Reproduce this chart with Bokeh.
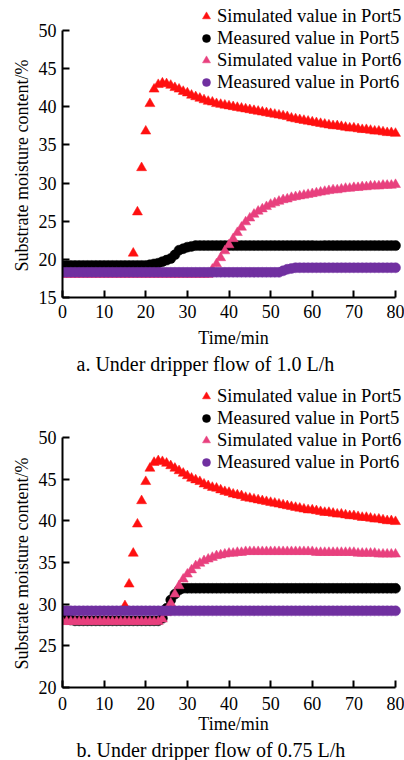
from bokeh.plotting import figure
from bokeh.models import Legend, LegendItem, FixedTicker, Title, Range1d
from bokeh.layouts import column
from bokeh.embed import file_html
from bokeh.resources import INLINE

time_min = [0, 1, 2, 3, 4, 5, 6, 7, 8, 9, 10, 11, 12, 13, 14, 15, 16, 17, 18, 19, 20,
            21, 22, 23, 24, 25, 26, 27, 28, 29, 30, 31, 32, 33, 34, 35, 36, 37, 38, 39, 40,
            41, 42, 43, 44, 45, 46, 47, 48, 49, 50, 51, 52, 53, 54, 55, 56, 57, 58, 59, 60,
            61, 62, 63, 64, 65, 66, 67, 68, 69, 70, 71, 72, 73, 74, 75, 76, 77, 78, 79, 80]

x_ticks = [0, 10, 20, 30, 40, 50, 60, 70, 80]
a_y_ticks = [15, 20, 25, 30, 35, 40, 45, 50]
b_y_ticks = [20, 25, 30, 35, 40, 45, 50]

series_names = ["Simulated value in Port5", "Measured value in Port5",
                "Simulated value in Port6", "Measured value in Port6"]
captions = ["a. Under dripper flow of 1.0 L/h", "b. Under dripper flow of 0.75 L/h"]
x_label = "Time/min"
y_label = "Substrate moisture content/%"

# ---- panel a (1.0 L/h) ----
a_sim5 = [19.0, 19.0, 19.0, 19.0, 19.0, 19.0, 19.0, 19.0, 19.0, 19.0, 19.0, 19.0, 19.0, 19.0, 19.0, 19.0, 19.0,
          20.8, 26.2, 32.0, 36.8, 40.4, 42.3, 42.9, 43.1, 43.0, 42.8, 42.5, 42.3, 42.0, 41.8,
          41.5, 41.3, 41.1, 40.9, 40.7, 40.6, 40.4, 40.3, 40.2, 40.1,
          40.0, 39.9, 39.8, 39.7, 39.6, 39.5, 39.4, 39.3, 39.2, 39.1,
          39.0, 38.9, 38.8, 38.7, 38.5, 38.4, 38.3, 38.2, 38.1, 38.0,
          37.9, 37.8, 37.7, 37.6, 37.5, 37.5, 37.4, 37.3, 37.2, 37.2,
          37.1, 37.0, 37.0, 36.9, 36.8, 36.8, 36.7, 36.6, 36.6, 36.5]
a_meas5 = [19.2, 19.2, 19.2, 19.2, 19.2, 19.2, 19.2, 19.2, 19.2, 19.2, 19.2,
           19.2, 19.2, 19.2, 19.2, 19.2, 19.2, 19.2, 19.2, 19.2, 19.2,
           19.3, 19.4, 19.5, 19.7, 19.9, 20.1, 20.6, 21.2, 21.4, 21.6, 21.7,
           21.8, 21.8, 21.8, 21.8, 21.8, 21.8, 21.8, 21.8, 21.8, 21.8,
           21.8, 21.8, 21.8, 21.8, 21.8, 21.8, 21.8, 21.8, 21.8, 21.8,
           21.8, 21.8, 21.8, 21.8, 21.8, 21.8, 21.8, 21.8, 21.8, 21.8,
           21.8, 21.8, 21.8, 21.8, 21.8, 21.8, 21.8, 21.8, 21.8, 21.8,
           21.8, 21.8, 21.8, 21.8, 21.8, 21.8, 21.8, 21.8, 21.8]
a_sim6 = [18.0, 18.0, 18.0, 18.0, 18.0, 18.0, 18.0, 18.0, 18.0, 18.0, 18.0, 18.0,
          18.0, 18.0, 18.0, 18.0, 18.0, 18.0, 18.0, 18.0, 18.0, 18.0, 18.0, 18.0,
          18.0, 18.0, 18.0, 18.0, 18.0, 18.0, 18.0, 18.0, 18.0, 18.0, 18.0, 18.0,
          18.7, 19.4, 20.2, 21.1, 21.9, 22.7, 23.5, 24.2, 24.9, 25.4,
          25.9, 26.3, 26.6, 26.9, 27.2, 27.4, 27.6, 27.8, 27.9, 28.1,
          28.2, 28.3, 28.4, 28.5, 28.6, 28.7, 28.8, 28.9, 29.0, 29.1,
          29.1, 29.2, 29.3, 29.3, 29.4, 29.4, 29.5, 29.5, 29.6, 29.6,
          29.6, 29.7, 29.7, 29.7, 29.8]
a_meas6 = [18.3, 18.3, 18.3, 18.3, 18.3, 18.3, 18.3, 18.3, 18.3, 18.3, 18.3,
           18.3, 18.3, 18.3, 18.3, 18.3, 18.3, 18.3, 18.3, 18.3, 18.3,
           18.3, 18.3, 18.3, 18.3, 18.3, 18.3, 18.3, 18.3, 18.3, 18.3,
           18.3, 18.3, 18.3, 18.3, 18.3, 18.3, 18.3, 18.3, 18.3, 18.3,
           18.3, 18.3, 18.3, 18.3, 18.3, 18.3, 18.3, 18.3, 18.3, 18.3,
           18.3, 18.3, 18.5, 18.7, 18.8,
           18.9, 18.9, 18.9, 18.9, 18.9, 18.9, 18.9, 18.9, 18.9, 18.9,
           18.9, 18.9, 18.9, 18.9, 18.9, 18.9, 18.9, 18.9, 18.9, 18.9,
           18.9, 18.9, 18.9, 18.9, 18.9]

# ---- panel b (0.75 L/h) ----
b_sim5 = [28.0, 28.0, 28.0, 28.0, 28.0, 28.0, 28.0, 28.0, 28.0, 28.0, 28.0, 28.0, 28.0, 28.0, 28.0,
          29.8, 32.4, 36.1, 39.6, 42.4, 44.7, 46.3, 47.0, 47.2, 47.1, 46.9, 46.6, 46.3, 46.0, 45.7, 45.4,
          45.1, 44.9, 44.7, 44.4, 44.2, 44.0, 43.9, 43.7, 43.5, 43.4,
          43.2, 43.1, 43.0, 42.8, 42.7, 42.6, 42.5, 42.4, 42.3, 42.2,
          42.1, 42.0, 41.9, 41.8, 41.7, 41.6, 41.5, 41.4, 41.3, 41.3,
          41.2, 41.1, 41.0, 41.0, 40.9, 40.8, 40.8, 40.7, 40.6, 40.6,
          40.5, 40.4, 40.4, 40.3, 40.2, 40.2, 40.1, 40.0, 40.0, 39.9]
b_meas5 = [28.3, 28.2, 28.1,
           28.0, 28.0, 28.0, 28.0, 28.0, 28.0, 28.0, 28.0, 28.0, 28.0, 28.0,
           28.0, 28.0, 28.0, 28.0, 28.0, 28.0, 28.0, 28.0, 28.0, 28.0,
           28.3, 29.5, 30.5, 31.2, 31.7,
           31.9, 31.9, 31.9, 31.9, 31.9, 31.9, 31.9, 31.9, 31.9, 31.9,
           31.9, 31.9, 31.9, 31.9, 31.9, 31.9, 31.9, 31.9, 31.9, 31.9,
           31.9, 31.9, 31.9, 31.9, 31.9, 31.9, 31.9, 31.9, 31.9, 31.9,
           31.9, 31.9, 31.9, 31.9, 31.9, 31.9, 31.9, 31.9, 31.9, 31.9,
           31.9, 31.9, 31.9, 31.9, 31.9, 31.9, 31.9, 31.9, 31.9, 31.9,
           31.9, 31.9]
b_sim6 = [27.9, 27.9, 27.9, 27.9, 27.9, 27.9, 27.9, 27.9, 27.9, 27.9, 27.9, 27.9,
          27.9, 27.9, 27.9, 27.9, 27.9, 27.9, 27.9, 27.9, 27.9, 27.9, 27.9, 27.9,
          28.2, 29.0, 30.1, 31.2, 32.2, 33.0, 33.6, 34.1, 34.6, 34.9,
          35.2, 35.4, 35.6, 35.8, 35.9, 36.0, 36.1, 36.1, 36.2, 36.2,
          36.3, 36.3, 36.3, 36.3, 36.3, 36.3, 36.3, 36.3, 36.3, 36.3,
          36.3, 36.3, 36.3, 36.3, 36.3, 36.3, 36.3,
          36.2, 36.2, 36.2, 36.2, 36.2, 36.2, 36.2, 36.2, 36.2, 36.2,
          36.1, 36.1, 36.1, 36.1, 36.1,
          36.0, 36.0, 36.0, 36.0, 36.0]
b_meas6 = [29.2, 29.2, 29.2, 29.2, 29.2, 29.2, 29.2, 29.2, 29.2, 29.2, 29.2,
           29.2, 29.2, 29.2, 29.2, 29.2, 29.2, 29.2, 29.2, 29.2, 29.2,
           29.2, 29.2, 29.2, 29.2, 29.2, 29.2, 29.2, 29.2, 29.2, 29.2,
           29.2, 29.2, 29.2, 29.2, 29.2, 29.2, 29.2, 29.2, 29.2, 29.2,
           29.2, 29.2, 29.2, 29.2, 29.2, 29.2, 29.2, 29.2, 29.2, 29.2,
           29.2, 29.2, 29.2, 29.2, 29.2, 29.2, 29.2, 29.2, 29.2, 29.2,
           29.2, 29.2, 29.2, 29.2, 29.2, 29.2, 29.2, 29.2, 29.2, 29.2,
           29.2, 29.2, 29.2, 29.2, 29.2, 29.2, 29.2, 29.2, 29.2, 29.2]

COLORS = ["#ff1010", "#000000", "#e8407e", "#7030a0"]
MARKERS = ["triangle", "circle", "triangle", "circle"]
SIZES = [10, 10, 10, 10]
FONT = "Liberation Serif"


def make_panel(series, y0, y1, y_top, yticks, caption, frame_h, border_bottom, legend_vy,
               tick_standoff, xlabel_standoff, cap_standoff, ylab_offset):
    p = figure(frame_width=342, frame_height=frame_h,
               x_range=Range1d(0, 82.16), y_range=Range1d(y0, y_top),
               output_backend="svg", toolbar_location=None,
               min_border_left=62, min_border_right=0,
               min_border_top=0, min_border_bottom=border_bottom)
    p.grid.visible = False
    p.outline_line_color = None
    p.background_fill_color = "white"

    renderers = []
    for vals, c, m, s in zip(series, COLORS, MARKERS, SIZES):
        r = p.scatter(time_min, vals, marker=m, size=s, fill_color=c, line_color=c, line_width=0.5)
        renderers.append(r)

    p.xaxis.ticker = FixedTicker(ticks=x_ticks, minor_ticks=[])
    p.yaxis.ticker = FixedTicker(ticks=yticks, minor_ticks=[])
    p.xaxis.bounds = (0, 80)
    p.yaxis.bounds = (y0, y1)
    p.xaxis.axis_label = x_label
    for ax in (p.xaxis, p.yaxis):
        ax.axis_line_width = 2
        ax.axis_line_color = "black"
        ax.major_tick_line_width = 2
        ax.major_tick_line_color = "black"
        ax.major_tick_in = 7
        ax.major_tick_out = 0
        ax.minor_tick_in = 0
        ax.minor_tick_out = 0
        ax.major_label_text_font = FONT
        ax.major_label_text_font_size = "18px"
        ax.major_label_text_color = "black"
        ax.axis_label_text_font = FONT
        ax.axis_label_text_font_size = "18px"
        ax.axis_label_text_font_style = "normal"
        ax.axis_label_text_color = "black"
    p.xaxis.major_label_standoff = tick_standoff
    p.xaxis.axis_label_standoff = xlabel_standoff
    p.yaxis.major_label_standoff = 6

    ylab = Title(text=y_label, align="left", offset=ylab_offset, text_font=FONT,
                 text_font_size="18px", text_font_style="normal",
                 text_color="black", standoff=8)
    p.add_layout(ylab, "left")

    items = [LegendItem(label=n, renderers=[r]) for n, r in zip(series_names, renderers)]
    leg = Legend(items=items, location=(134, legend_vy), orientation="vertical",
                 glyph_width=20, glyph_height=20, label_height=21, spacing=0,
                 padding=0, margin=0, label_standoff=1,
                 background_fill_alpha=0, border_line_color=None,
                 label_text_font=FONT, label_text_font_size="18.6px",
                 label_text_color="black")
    p.add_layout(leg)

    cap = Title(text=caption, align="left", offset=14, text_font=FONT,
                text_font_size="20px", text_font_style="normal",
                text_color="black", standoff=cap_standoff)
    p.add_layout(cap, "below")
    return p


# panel a: 50 at page y 30, 15 at 297 -> frame spans 0..297
pa = make_panel([a_sim5, a_meas5, a_sim6, a_meas6], 15, 50, 53.93, a_y_ticks, captions[0],
                297, 83, 204, 7, 7, 0, 26)
# panel b: 50 at page y 437, 20 at 687, figure starts at 380 -> frame spans 380..687
pb = make_panel([b_sim5, b_meas5, b_sim6, b_meas6], 20, 50, 56.84, b_y_ticks, captions[1],
                307, 73, 214.5, 9, 1, 0, 18)

layout = column(pa, pb, spacing=0)
open("out.html", "w").write(file_html(layout, INLINE))
